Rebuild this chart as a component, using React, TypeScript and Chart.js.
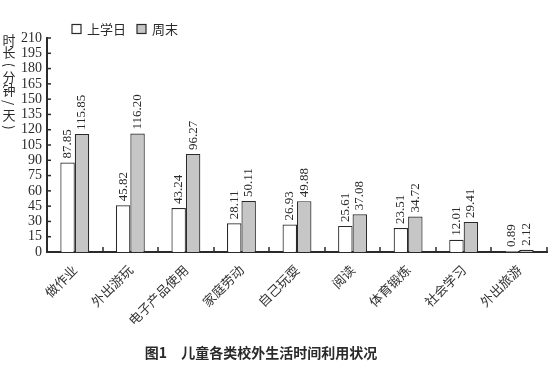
import React, { useEffect, useRef } from 'react';
import { Chart, registerables } from 'chart.js';
Chart.register(...registerables);

const categories = ['做作业', '外出游玩', '电子产品使用', '家庭劳动', '自己玩耍', '阅读', '体育锻炼', '社会学习', '外出旅游'];
const schoolDay = [87.85, 45.82, 43.24, 28.11, 26.93, 25.61, 23.51, 12.01, 0.89];
const weekend = [115.85, 116.2, 96.27, 50.11, 49.88, 37.08, 34.72, 29.41, 2.12];
const seriesNames = ['上学日', '周末'];
const yTitleChars = ['时', '长', '(', '分', '钟', '/', '天', ')'];
const caption = '图1　儿童各类校外生活时间利用状况';

const INK = '#2a2a2a';
const GREY = '#c6c6c6';
const SERIF = '"Liberation Serif", "DejaVu Serif", serif';
const CJK = '"Noto Sans CJK SC", sans-serif';

const decorPlugin = {
  id: 'decor',
  afterDatasetsDraw(chart: any) {
    const ctx = chart.ctx as CanvasRenderingContext2D;
    const x = chart.scales.x;
    const y = chart.scales.y;
    const ca = chart.chartArea;
    ctx.save();
    ctx.setTransform(1, 0, 0, 1, 0, 0);
    ctx.strokeStyle = INK;
    ctx.lineWidth = 1.5;
    // y inward ticks
    y.ticks.forEach((t: any) => {
      const py = y.getPixelForValue(t.value);
      ctx.beginPath();
      ctx.moveTo(ca.left, py);
      ctx.lineTo(ca.left + 4, py);
      ctx.stroke();
    });
    // x inward ticks at category boundaries
    const n = categories.length;
    const step = (ca.right - ca.left) / n;
    for (let i = 1; i <= n; i++) {
      const px = Math.round(x.getPixelForTick(i - 1) + step / 2);
      ctx.beginPath();
      ctx.moveTo(px, ca.bottom);
      ctx.lineTo(px, ca.bottom - 5);
      ctx.stroke();
    }
    // value labels
    ctx.fillStyle = INK;
    ctx.font = `13px ${SERIF}`;
    ctx.textAlign = 'left';
    ctx.textBaseline = 'middle';
    chart.data.datasets.forEach((ds: any, di: number) => {
      const meta = chart.getDatasetMeta(di);
      meta.data.forEach((el: any, i: number) => {
        ctx.save();
        ctx.translate(el.x, el.y - 4);
        ctx.rotate(-Math.PI / 2);
        ctx.fillText(Number(ds.data[i]).toFixed(2), 0, 0);
        ctx.restore();
      });
    });
    // legend
    ctx.font = `13px ${CJK}`;
    ctx.textBaseline = 'middle';
    ctx.lineWidth = 1.2;
    const ly = 29;
    const items = [
      { x: 72, fill: '#ffffff', text: seriesNames[0] },
      { x: 137, fill: GREY, text: seriesNames[1] },
    ];
    items.forEach((it) => {
      ctx.fillStyle = it.fill;
      ctx.fillRect(it.x, ly - 4.5, 9, 9);
      ctx.strokeRect(it.x, ly - 4.5, 9, 9);
      ctx.fillStyle = INK;
      ctx.textAlign = 'left';
      ctx.fillText(it.text, it.x + 15, ly);
    });
    // y title (vertical, upright characters)
    ctx.font = `13px ${CJK}`;
    ctx.textAlign = 'center';
    ctx.textBaseline = 'middle';
    yTitleChars.forEach((c, i) => {
      const cy = 40 + i * 12.5;
      ctx.save();
      ctx.translate(9, cy);
      if (c === '(' || c === ')' || c === '/') ctx.rotate(Math.PI / 2);
      ctx.fillText(c, 0, 0);
      ctx.restore();
    });
    // caption
    ctx.font = `bold 14px ${CJK}`;
    ctx.textAlign = 'center';
    ctx.fillText(caption, 261, 353);
    ctx.restore();
  },
};

export default function App() {
  const ref = useRef<HTMLCanvasElement>(null);
  useEffect(() => {
    document.body.style.margin = '0';
    const chart = new Chart(ref.current!, {
      type: 'bar',
      data: {
        labels: categories,
        datasets: [
          { label: seriesNames[0], data: schoolDay, backgroundColor: '#ffffff', borderColor: INK, borderWidth: 1.2 },
          { label: seriesNames[1], data: weekend, backgroundColor: GREY, borderColor: INK, borderWidth: 1.2 },
        ],
      },
      options: {
        responsive: false,
        animation: false,
        datasets: { bar: { categoryPercentage: 0.52, barPercentage: 1 } },
        layout: { padding: { top: 38, right: 7, left: 0, bottom: 0 } },
        plugins: { legend: { display: false }, tooltip: { enabled: false } },
        scales: {
          x: {
            grid: { display: false, drawTicks: false },
            border: { display: true, color: INK, width: 2 },
            ticks: { font: { family: CJK, size: 13 }, color: '#333', minRotation: 45, maxRotation: 45, padding: 10, autoSkip: false },
            afterFit: (s: any) => { s.height = 113; },
          },
          y: {
            min: 0,
            max: 210,
            grid: { display: false, drawTicks: false },
            border: { display: true, color: INK, width: 2 },
            ticks: { stepSize: 15, autoSkip: false, font: { family: SERIF, size: 14 }, color: INK, padding: 5 },
            afterFit: (s: any) => { s.width = 47; },
          },
        },
      },
      plugins: [decorPlugin],
    });
    return () => chart.destroy();
  }, []);
  return <canvas ref={ref} width={554} height={365} style={{ display: 'block' }} />;
}
